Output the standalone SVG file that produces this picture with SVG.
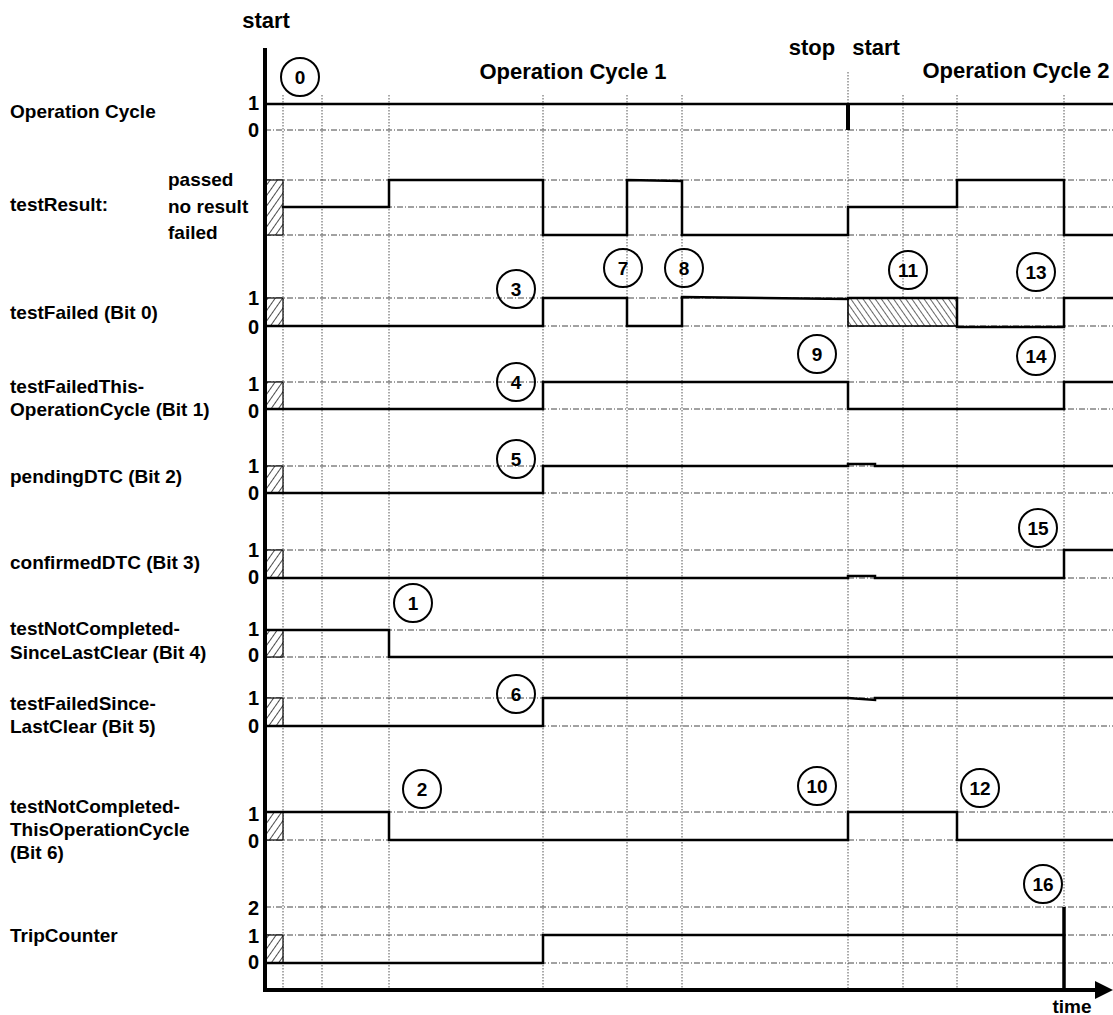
<svg xmlns="http://www.w3.org/2000/svg" width="1113" height="1015" viewBox="0 0 1113 1015">
<style>
text{font-family:"Liberation Sans",Arial,sans-serif;font-weight:bold;fill:#000}
.lbl{font-size:19px}
.big{font-size:22px}
.dg{font-size:20px;text-anchor:end}
.cn{font-size:19px;text-anchor:middle}
.sig{fill:none;stroke:#000;stroke-width:2.5;stroke-linejoin:miter;stroke-linecap:square}
.hg{stroke:#444;stroke-width:1;stroke-dasharray:6 2 1 2;fill:none}
.vg{stroke:#555;stroke-width:1;stroke-dasharray:1.5 1.5;fill:none}
.circ{fill:none;stroke:#000;stroke-width:2}
.hl{fill:url(#hatchL);stroke:#000;stroke-width:1.2}
</style>
<defs>
<pattern id="hatchL" patternUnits="userSpaceOnUse" width="6" height="6" patternTransform="rotate(35)">
<rect width="6" height="6" fill="#fff"/>
<line x1="0" y1="0" x2="0" y2="6" stroke="#000" stroke-width="1.4"/>
</pattern>
<pattern id="hatchR" patternUnits="userSpaceOnUse" width="5" height="5" patternTransform="rotate(-35)">
<rect width="5" height="5" fill="#fff"/>
<line x1="0" y1="0" x2="0" y2="5" stroke="#000" stroke-width="1.2"/>
</pattern>
</defs>
<rect width="1113" height="1015" fill="#fff"/>

<g id="grid">
<path class="vg" d="M283,95V988M322,95V988M389,95V988M543,95V988M627,95V988M682,95V988M848,72V988M903,95V988M957,95V988M1064,95V988"/>
<path class="hg" d="M265,130H1113M265,180H1113M265,207H1113M265,235H1113M265,298H1113M265,326H1113M265,382H1113M265,409H1113M265,466H1113M265,493H1113M265,550H1113M265,578H1113M265,630H1113M265,657H1113M265,698H1113M265,726H1113M265,812H1113M265,840H1113M265,907H1113M265,935H1113M265,963H1113"/>
</g>

<g id="header">
<text class="big" x="266" y="28" text-anchor="middle">start</text>
<text class="big" x="573" y="79" text-anchor="middle">Operation Cycle 1</text>
<text class="big" x="812" y="55" text-anchor="middle">stop</text>
<text class="big" x="876" y="55" text-anchor="middle">start</text>
<text class="big" x="1016" y="78" text-anchor="middle">Operation Cycle 2</text>
</g>

<g id="row-operation-cycle">
<text class="lbl" x="10" y="118">Operation Cycle</text>
<text class="dg" x="259" y="110">1</text>
<text class="dg" x="259" y="137">0</text>
<path class="sig" d="M265,104H1113"/>
<path d="M848,104V130" stroke="#000" stroke-width="4"/>
</g>

<g id="row-test-result">
<text class="lbl" x="10" y="211">testResult:</text>
<text class="lbl" x="168" y="186">passed</text>
<text class="lbl" x="168" y="213">no result</text>
<text class="lbl" x="168" y="239">failed</text>
<rect class="hl" x="265" y="180" width="18" height="55"/>
<path class="sig" d="M283,207H389V180H543V235H627V180L682,181V235H848V207H957V180H1064V235H1113"/>
</g>

<g id="row-test-failed">
<text class="lbl" x="10" y="319">testFailed (Bit 0)</text>
<text class="dg" x="259" y="305">1</text>
<text class="dg" x="259" y="334">0</text>
<rect class="hl" x="265" y="298" width="18" height="28"/>
<rect x="848" y="298" width="109" height="28" fill="url(#hatchR)" stroke="#000" stroke-width="1.6"/>
<path class="sig" d="M265,326H543V298H627V326H682V297L848,299"/>
<path class="sig" d="M848,298H957V327H1064V298H1113"/>
</g>

<g id="row-bit1">
<text class="lbl" x="10" y="393">testFailedThis-</text>
<text class="lbl" x="10" y="416">OperationCycle (Bit 1)</text>
<text class="dg" x="259" y="391">1</text>
<text class="dg" x="259" y="418">0</text>
<rect class="hl" x="265" y="382" width="18" height="27"/>
<path class="sig" d="M265,409H543V382H848V409H1064V382H1113"/>
</g>

<g id="row-bit2">
<text class="lbl" x="10" y="483">pendingDTC (Bit 2)</text>
<text class="dg" x="259" y="473">1</text>
<text class="dg" x="259" y="500">0</text>
<rect class="hl" x="265" y="466" width="18" height="27"/>
<path class="sig" d="M265,493H543V466H848V464H875V466H1113"/>
</g>

<g id="row-bit3">
<text class="lbl" x="10" y="569">confirmedDTC (Bit 3)</text>
<text class="dg" x="259" y="557">1</text>
<text class="dg" x="259" y="584">0</text>
<rect class="hl" x="265" y="550" width="18" height="28"/>
<path class="sig" d="M265,578H848V576H875V578H1064V550H1113"/>
</g>

<g id="row-bit4">
<text class="lbl" x="10" y="635">testNotCompleted-</text>
<text class="lbl" x="10" y="659">SinceLastClear (Bit 4)</text>
<text class="dg" x="259" y="636">1</text>
<text class="dg" x="259" y="662">0</text>
<rect class="hl" x="265" y="630" width="18" height="27"/>
<path class="sig" d="M265,630H389V657H1113"/>
</g>

<g id="row-bit5">
<text class="lbl" x="10" y="710">testFailedSince-</text>
<text class="lbl" x="10" y="733">LastClear (Bit 5)</text>
<text class="dg" x="259" y="705">1</text>
<text class="dg" x="259" y="733">0</text>
<rect class="hl" x="265" y="698" width="18" height="28"/>
<path class="sig" d="M265,726H543V698H848L875,700V698H1113"/>
</g>

<g id="row-bit6">
<text class="lbl" x="10" y="813">testNotCompleted-</text>
<text class="lbl" x="10" y="836">ThisOperationCycle</text>
<text class="lbl" x="10" y="859">(Bit 6)</text>
<text class="dg" x="259" y="821">1</text>
<text class="dg" x="259" y="848">0</text>
<rect class="hl" x="265" y="812" width="18" height="28"/>
<path class="sig" d="M265,812H389V840H848V812H957V840H1113"/>
</g>

<g id="row-trip-counter">
<text class="lbl" x="10" y="942">TripCounter</text>
<text class="dg" x="259" y="915">2</text>
<text class="dg" x="259" y="943">1</text>
<text class="dg" x="259" y="969">0</text>
<rect class="hl" x="265" y="935" width="18" height="28"/>
<path class="sig" d="M265,963H543V935H1064"/>
<path d="M1064,907V990" stroke="#000" stroke-width="3.5"/>
</g>

<g id="axes">
<path d="M265,48V992" stroke="#000" stroke-width="4" fill="none"/>
<path d="M263,990H1096" stroke="#000" stroke-width="4" fill="none"/>
<path d="M1095,981L1113,990L1095,999Z" fill="#000"/>
<text class="lbl" x="1072" y="1013" text-anchor="middle">time</text>
</g>

<g id="markers">
<g id="m0"><circle class="circ" cx="300" cy="77" r="19"/><text class="cn" x="300" y="84">0</text></g>
<g id="m1"><circle class="circ" cx="413" cy="603" r="19"/><text class="cn" x="413" y="610">1</text></g>
<g id="m2"><circle class="circ" cx="422" cy="789" r="19"/><text class="cn" x="422" y="796">2</text></g>
<g id="m3"><circle class="circ" cx="516" cy="289" r="19"/><text class="cn" x="516" y="296">3</text></g>
<g id="m4"><circle class="circ" cx="516" cy="382" r="19"/><text class="cn" x="516" y="389">4</text></g>
<g id="m5"><circle class="circ" cx="516" cy="459" r="19"/><text class="cn" x="516" y="466">5</text></g>
<g id="m6"><circle class="circ" cx="516" cy="694" r="19"/><text class="cn" x="516" y="701">6</text></g>
<g id="m7"><circle class="circ" cx="623" cy="268" r="19"/><text class="cn" x="623" y="275">7</text></g>
<g id="m8"><circle class="circ" cx="684" cy="268" r="19"/><text class="cn" x="684" y="275">8</text></g>
<g id="m9"><circle class="circ" cx="817" cy="354" r="19"/><text class="cn" x="817" y="361">9</text></g>
<g id="m10"><circle class="circ" cx="817" cy="786" r="19"/><text class="cn" x="817" y="793">10</text></g>
<g id="m11"><circle class="circ" cx="908" cy="270" r="19"/><text class="cn" x="908" y="277">11</text></g>
<g id="m12"><circle class="circ" cx="980" cy="788" r="19"/><text class="cn" x="980" y="795">12</text></g>
<g id="m13"><circle class="circ" cx="1036" cy="272" r="19"/><text class="cn" x="1036" y="279">13</text></g>
<g id="m14"><circle class="circ" cx="1036" cy="356" r="19"/><text class="cn" x="1036" y="363">14</text></g>
<g id="m15"><circle class="circ" cx="1038" cy="528" r="19"/><text class="cn" x="1038" y="535">15</text></g>
<g id="m16"><circle class="circ" cx="1043" cy="884" r="19"/><text class="cn" x="1043" y="891">16</text></g>
</g>
</svg>
